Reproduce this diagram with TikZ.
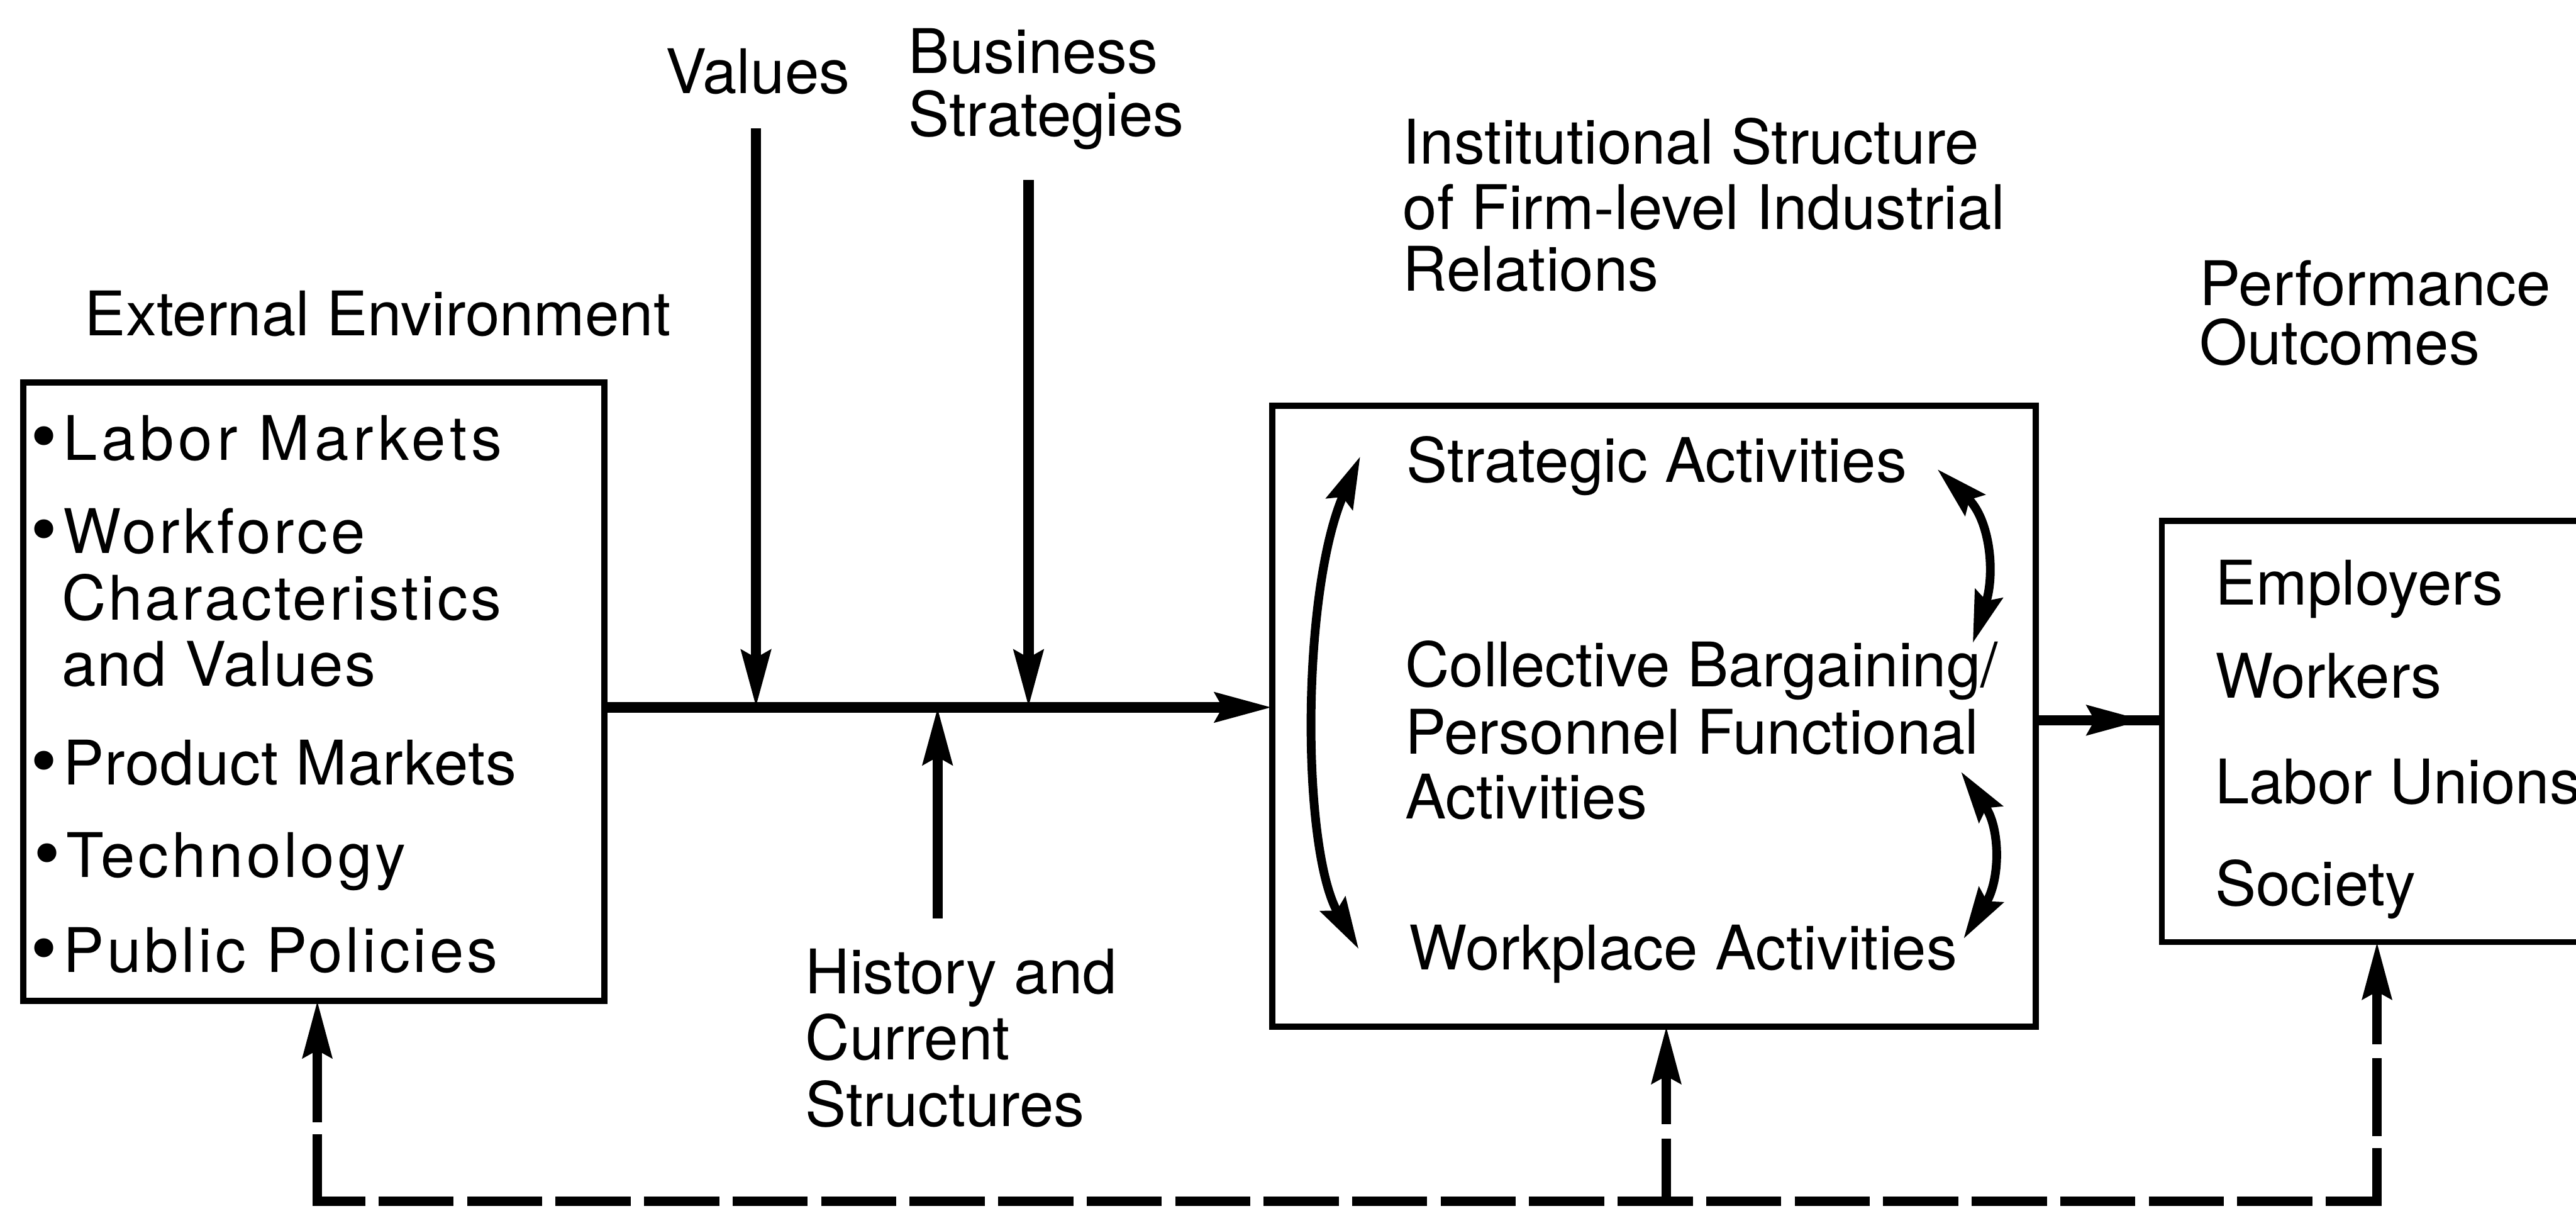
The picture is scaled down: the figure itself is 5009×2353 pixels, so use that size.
\documentclass[tikz,border=0pt]{standalone}
\usepackage{fontspec}
\setmainfont{TeX Gyre Heros}
\newfontfamily\bulletfont{DejaVu Sans}
\usetikzlibrary{arrows.meta,decorations.markings}

% bullet in front of an environment item
\newcommand{\itembullet}{{\bulletfont\fontsize{36}{36}\selectfont •}}
% hand-lettered lines are set a little wider
\newcommand{\tracked}[2]{{\addfontfeatures{LetterSpace=#1}#2}}

\begin{document}
\begin{tikzpicture}[x=0.01cm, y=-0.01cm,
  >={Stealth[length=1.1cm, width=0.56cm, inset=0.14cm]},
  txt/.style={anchor=base west, inner sep=0pt, outer sep=0pt, font=\fontsize{34}{40}\selectfont},
  boxframe/.style={draw, line width=0.12cm, inner sep=0pt, outer sep=0pt},
  flowline/.style={line width=0.2cm},
  flowarrow/.style={flowline, ->},
  looparrow/.style={line width=0.17cm,
    {Stealth[length=1.0cm, width=0.55cm, inset=0.14cm]}-{Stealth[length=1.0cm, width=0.55cm, inset=0.14cm]}},
  fbline/.style={line width=0.18cm},
  fbarrow/.style={fbline, ->}
]
\fill[white] (0,0) rectangle (5009,2353);
\useasboundingbox (0,0) rectangle (5009,2353);
\clip (0,0) rectangle (5009,2353);

% boxes
\node[boxframe, minimum width=11.29cm, minimum height=12.01cm] (envbox) at (610.5,1344.5) {};
\node[boxframe, minimum width=14.84cm, minimum height=12.06cm] (irbox) at (3216,1392) {};
\node[boxframe, minimum width=9.6cm, minimum height=8.18cm] (outbox) at (4684,1422) {};

% headings
\node[txt] (envhead) at (165,652) {External Environment};
\node[txt] (valhead) at (1294,182) {Values};
\node[txt] (bushead1) at (1767,142) {Business};
\node[txt] (bushead2) at (1767,265) {Strategies};
\node[txt] (irhead1) at (2728,318) {Institutional Structure};
\node[txt] (irhead2) at (2728,446) {of Firm-level Industrial};
\node[txt] (irhead3) at (2728,565) {Relations};
\node[txt] (perfhead1) at (4277,594) {Performance};
\node[txt] (perfhead2) at (4277,709) {Outcomes};
\node[txt] (hist1) at (1566,1932) {History and};
\node[txt] (hist2) at (1566,2060) {Current};
\node[txt] (hist3) at (1566,2190) {Structures};

% external environment items
\node[txt] (e1) at (48,895) {\itembullet\tracked{7}{Labor Markets}};
\node[txt] (e2) at (48,1075) {\itembullet\tracked{5}{Workforce}};
\node[txt] (e3) at (120,1205) {\tracked{4}{Characteristics}};
\node[txt] (e4) at (120,1333) {\tracked{2}{and Values}};
\node[txt] (e5) at (48,1526) {\itembullet\tracked{1}{Product Markets}};
\node[txt] (e6) at (54,1705) {\itembullet\tracked{5}{Technology}};
\node[txt] (e7) at (48,1890) {\itembullet\tracked{5}{Public Policies}};

% institutional activities
\node[txt] (a1) at (2735,937) {Strategic Activities};
\node[txt] (a2) at (2732,1335) {Collective Bargaining/};
\node[txt] (a3) at (2732,1466) {Personnel Functional};
\node[txt] (a4) at (2732,1592) {Activities};
\node[txt] (a5) at (2740,1885) {Workplace Activities};

% outcome groups
\node[txt] (o1) at (4307,1176) {Employers};
\node[txt] (o2) at (4307,1357) {Workers};
\node[txt] (o3) at (4307,1562) {Labor Unions};
\node[txt] (o4) at (4307,1760) {Society};

% main flow
\coordinate (spine) at (0,1375);
\coordinate (outlink) at (0,1400);
\draw[flowarrow] (envbox.east |- spine) -- (irbox.west |- spine);
\draw[flowline, postaction={decorate},
      decoration={markings, mark=at position 0.86 with {\arrow{>}}}]
  (irbox.east |- outlink) -- (outbox.west |- outlink);

% inputs joining the main flow
\coordinate (valtail) at (1470,250);
\coordinate (bustail) at (2000,350);
\coordinate (histtail) at (1823,1785);
\draw[flowarrow] (valtail) -- (valtail |- spine);
\draw[flowarrow] (bustail) -- (bustail |- spine);
\draw[flowarrow] (histtail) -- (histtail |- spine);

% interaction between the three levels
\coordinate (lt) at (2645,887);
\coordinate (lb) at (2642,1845);
\draw[looparrow] (lt) .. controls (2530,1150) and (2530,1650) .. (lb);
\coordinate (r1t) at (3767,912);
\coordinate (r1b) at (3836,1250);
\draw[looparrow] (r1t) .. controls (3870,1010) and (3880,1115) .. (r1b);
\coordinate (r2t) at (3813,1500);
\coordinate (r2b) at (3818,1825);
\draw[looparrow] (r2t) .. controls (3890,1610) and (3890,1710) .. (r2b);

% feedback loop
\coordinate (fbL) at (617,2335);
\coordinate (fbM) at (3240,2335);
\coordinate (fbR) at (4622,2335);
\draw[fbline, dash pattern=on 1.46cm off 0.26cm, dash phase=0.44cm]
  ([xshift=-0.09cm]fbL) -- ([xshift=0.09cm]fbR);
\draw[fbarrow, dash pattern=on 1.3cm off 0.23cm on 6cm off 1cm] (fbL) -- (fbL |- envbox.south);
\draw[fbarrow, dash pattern=on 1.22cm off 0.28cm on 6cm off 1cm] (fbM) -- (fbM |- irbox.south);
\draw[fbarrow, dash pattern=on 1.03cm off 0.23cm on 1.52cm off 0.27cm on 6cm off 1cm] (fbR) -- (fbR |- outbox.south);
\end{tikzpicture}
\end{document}
